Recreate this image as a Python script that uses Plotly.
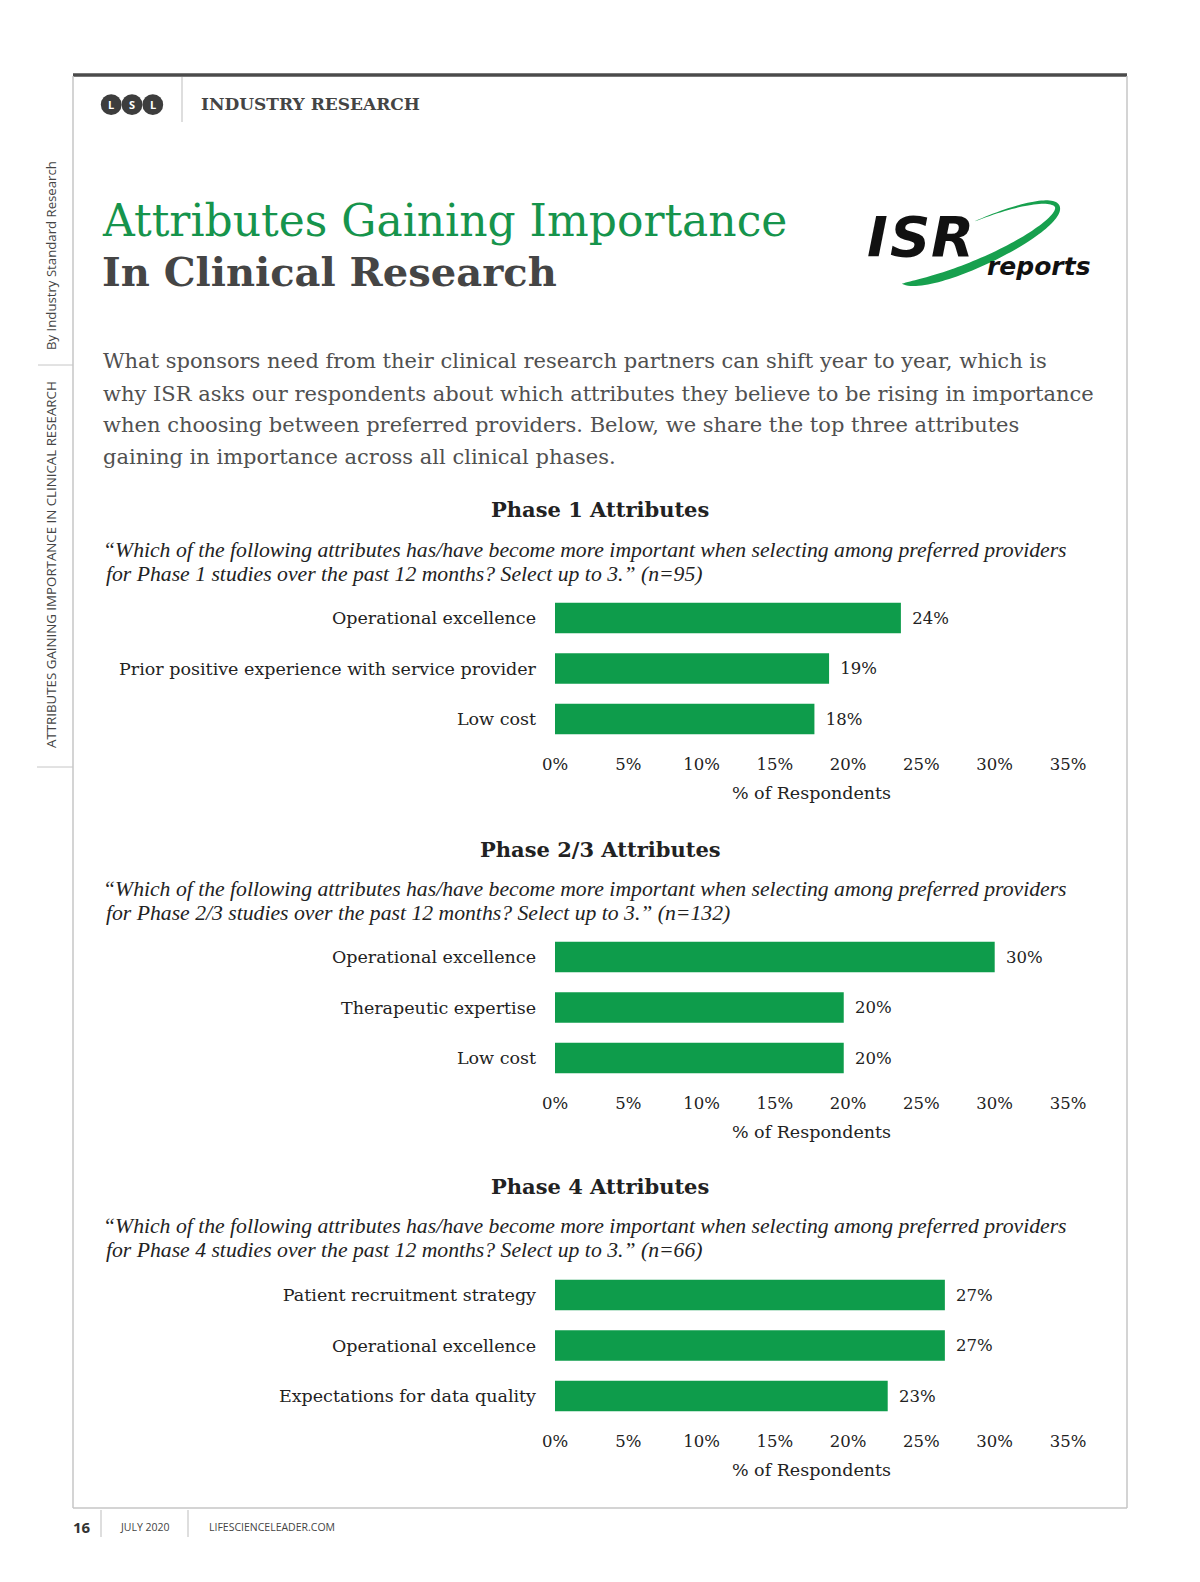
import math
import plotly.graph_objects as go

W, H = 1200, 1582

# ---------------- data ----------------
phase1_labels = ["Operational excellence", "Prior positive experience with service provider", "Low cost"]
phase1_values = [23.6, 18.7, 17.7]
phase23_labels = ["Operational excellence", "Therapeutic expertise", "Low cost"]
phase23_values = [30.0, 19.7, 19.7]
phase4_labels = ["Patient recruitment strategy", "Operational excellence", "Expectations for data quality"]
phase4_values = [26.6, 26.6, 22.7]

tick_values = [0, 5, 10, 15, 20, 25, 30, 35]
tick_labels = ["0%", "5%", "10%", "15%", "20%", "25%", "30%", "35%"]
axis_title = "% of Respondents"

phase_titles = ["Phase 1 Attributes", "Phase 2/3 Attributes", "Phase 4 Attributes"]
question_line1 = "\u201cWhich of the following attributes has/have become more important when selecting among preferred providers"
question_line2 = [
    "for Phase 1 studies over the past 12 months? Select up to 3.\u201d (n=95)",
    "for Phase 2/3 studies over the past 12 months? Select up to 3.\u201d (n=132)",
    "for Phase 4 studies over the past 12 months? Select up to 3.\u201d (n=66)",
]
title_line1 = "Attributes Gaining Importance"
title_line2 = "In Clinical Research"
intro_lines = [
    "What sponsors need from their clinical research partners can shift year to year, which is",
    "why ISR asks our respondents about which attributes they believe to be rising in importance",
    "when choosing between preferred providers. Below, we share the top three attributes",
    "gaining in importance across all clinical phases.",
]

# ---------------- styling ----------------
SERIF = "DejaVu Serif"
ITAL = "Liberation Serif"
SANS = "Open Sans"
LOGO = "DejaVu Sans"
GREEN = "#0e9c4b"
TITLE_GREEN = "#16944c"
DARK = "#222222"


def px(x):
    return x / W


def py(y):
    return 1 - y / H


panels = [
    dict(labels=phase1_labels, values=phase1_values, title_y=510, q_y=(550, 574), top=592.75, bottom=744.25),
    dict(labels=phase23_labels, values=phase23_values, title_y=849, q_y=(889, 913), top=931.75, bottom=1083.25),
    dict(labels=phase4_labels, values=phase4_values, title_y=1186, q_y=(1226, 1250), top=1269.75, bottom=1421.25),
]
X0, X1 = 555, 1068

fig = go.Figure()
annotations = []
shapes = []


def txt(x, y, s, size, color, family=SERIF, xanchor="left", yanchor="middle", angle=0):
    annotations.append(dict(
        x=px(x), y=py(y), xref="paper", yref="paper", text=s, showarrow=False,
        xanchor=xanchor, yanchor=yanchor, textangle=angle,
        font=dict(family=family, size=size, color=color),
    ))


def line(x0, y0, x1, y1, color, width):
    shapes.append(dict(type="line", xref="paper", yref="paper",
                       x0=px(x0), y0=py(y0), x1=px(x1), y1=py(y1),
                       line=dict(color=color, width=width)))


for i, p in enumerate(panels):
    n = "" if i == 0 else str(i + 1)
    fig.add_trace(go.Bar(
        x=p["values"], y=p["labels"], orientation="h",
        marker=dict(color=GREEN, line=dict(width=0)),
        texttemplate="&#8194;%{x:.0f}%", textposition="outside",
        constraintext="none", cliponaxis=False,
        textfont=dict(family=SERIF, size=16.5, color=DARK),
        hoverinfo="skip", xaxis="x" + n, yaxis="y" + n, showlegend=False,
    ))
    fig.layout["xaxis" + n] = dict(
        domain=[px(X0), px(X1)], range=[0, 35.001], anchor="y" + n,
        tickvals=tick_values, ticktext=tick_labels, showgrid=False, zeroline=False,
        showline=False, ticks="", ticklabelstandoff=8, automargin=False,
        tickfont=dict(family=SERIF, size=16.5, color=DARK),
        title=dict(text=axis_title, font=dict(family=SERIF, size=17.5, color=DARK), standoff=13),
        fixedrange=True,
    )
    fig.layout["yaxis" + n] = dict(
        domain=[py(p["bottom"]), py(p["top"])], anchor="x" + n,
        autorange="reversed", showgrid=False, zeroline=False, showline=False,
        ticks="", ticklabelstandoff=18, automargin=False,
        tickfont=dict(family=SERIF, size=17.5, color=DARK), fixedrange=True,
    )
    txt(600, p["title_y"], "<b>" + phase_titles[i] + "</b>", 21, DARK, xanchor="center")
    txt(101, p["q_y"][0], "<i>" + question_line1 + "</i>", 21.7, DARK, family=ITAL)
    txt(104, p["q_y"][1], "<i>" + question_line2[i] + "</i>", 21.7, DARK, family=ITAL)

# ---------------- page frame ----------------
line(73, 75, 1127, 75, "#4b4b4b", 3.5)
line(73, 76, 73, 1508, "#c6c6c6", 1.5)
line(1127, 76, 1127, 1508, "#c6c6c6", 1.5)
line(73, 1508, 1127, 1508, "#c6c6c6", 1.5)
line(182, 77, 182, 122, "#bdbdbd", 1)
line(38, 365, 73, 365, "#c6c6c6", 1)
line(37, 767, 73, 767, "#c6c6c6", 1)
line(101, 1510, 101, 1537, "#bdbdbd", 1)
line(188, 1510, 188, 1537, "#bdbdbd", 1)

# LSL badge
for cx, letter in zip([111.2, 132.0, 152.8], ["L", "S", "L"]):
    r = 10.4
    shapes.append(dict(type="circle", xref="paper", yref="paper",
                       x0=px(cx - r), x1=px(cx + r), y0=py(104.7 + r), y1=py(104.7 - r),
                       fillcolor="#3d3d3d", line=dict(width=0)))
    txt(cx, 105, "<b>" + letter + "</b>", 11, "white", family=SANS, xanchor="center")

txt(199, 104, "<b>INDUSTRY RESEARCH</b>", 17, "#444444")

# sidebar
txt(51, 256, "By Industry Standard Research", 13.2, "#444444", family=SANS, xanchor="center", angle=-90)
txt(51, 565, "ATTRIBUTES GAINING IMPORTANCE IN CLINICAL RESEARCH", 13.3, "#444444", family=SANS, xanchor="center", angle=-90)

# title
txt(100, 220, title_line1, 44, TITLE_GREEN)
txt(100, 272, "<b>" + title_line2 + "</b>", 40, "#454545")

# intro
for k, s in enumerate(intro_lines):
    txt(101, [361, 393.5, 425, 457][k], s, 21, "#505050")

# ISR logo swoosh
cxs, cys, a, b, phi = 975, 243, 90, 20, math.radians(-24)
t0, t1 = math.radians(158), math.radians(-85)
outer, inner = [], []
N = 90
for k in range(N + 1):
    s = k / N
    t = t0 + (t1 - t0) * s
    x = cxs + a * math.cos(t) * math.cos(phi) - b * math.sin(t) * math.sin(phi)
    y = cys + a * math.cos(t) * math.sin(phi) + b * math.sin(t) * math.cos(phi)
    dx = -a * math.sin(t) * math.cos(phi) - b * math.cos(t) * math.sin(phi)
    dy = -a * math.sin(t) * math.sin(phi) + b * math.cos(t) * math.cos(phi)
    L = math.hypot(dx, dy)
    nx, ny = dy / L, -dx / L
    w = 11 * (1 - math.exp(-s / 0.08)) * (1 - s) ** 0.8
    outer.append((x + nx * w / 2, y + ny * w / 2))
    inner.append((x - nx * w / 2, y - ny * w / 2))
pts = outer + inner[::-1]
path = "M " + " L ".join(f"{px(x):.5f},{py(y):.5f}" for x, y in pts) + " Z"
shapes.append(dict(type="path", xref="paper", yref="paper", path=path,
                   fillcolor="#17a04e", line=dict(width=0)))
for cx, letter in zip([877, 910, 952], ["I", "S", "R"]):
    txt(cx, 237, "<b><i>" + letter + "</i></b>", 56, "#111111", family=LOGO, xanchor="center")
txt(985, 266, "<b><i>reports</i></b>", 25, "#111111", family=LOGO)

# footer
txt(71, 1527, "<b>16</b>", 15, "#333333", family=SANS)
txt(118, 1527, "JULY 2020", 10.5, "#444444", family=SANS)
txt(207, 1527, "LIFESCIENCELEADER.COM", 10.5, "#444444", family=SANS)

fig.update_layout(
    width=W, height=H, margin=dict(l=0, r=0, t=0, b=0, autoexpand=False),
    paper_bgcolor="white", plot_bgcolor="white",
    bargap=0.4, showlegend=False,
    annotations=annotations, shapes=shapes,
)

fig.write_html(
    "out.html",
    config={"displayModeBar": False},
    post_script="document.body.style.margin='0';document.body.style.overflow='hidden';",
)
